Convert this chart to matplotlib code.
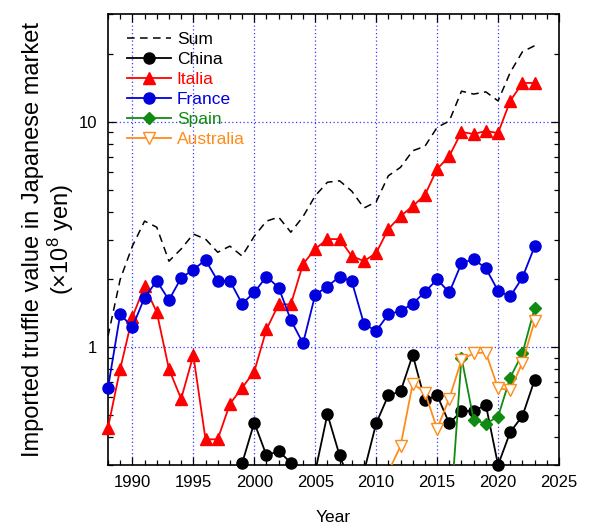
import numpy as np
import matplotlib
matplotlib.use("Agg")
import matplotlib.pyplot as plt
from matplotlib.ticker import MultipleLocator, LogLocator, NullFormatter, FixedLocator, FixedFormatter
from matplotlib.lines import Line2D

plt.rcParams['font.family'] = ['Liberation Sans', 'DejaVu Sans']
plt.rcParams['mathtext.fontset'] = 'custom'
plt.rcParams['mathtext.rm'] = 'Liberation Sans'
plt.rcParams['mathtext.it'] = 'Liberation Sans:italic'

nan = np.nan
years = list(range(1988, 2024))

china = [nan, nan, nan, nan, nan, nan, nan, nan, nan, nan, nan,
         0.305, 0.463, 0.331, 0.346, 0.307, nan, 0.28, 0.504, 0.331,
         0.24, 0.28, 0.459, 0.612, 0.636, 0.924, 0.581, 0.612, 0.459,
         0.521, 0.521, 0.554, 0.30, 0.42, 0.495, 0.716]
italia = [0.44, 0.80, 1.36, 1.87, 1.43, 0.80, 0.59, 0.92, 0.39, 0.39,
          0.56, 0.66, 0.78, 1.20, 1.55, 1.55, 2.34, 2.73, 3.02, 3.02,
          2.54, 2.41, 2.62, 3.35, 3.82, 4.23, 4.74, 6.18, 7.06, 9.03,
          8.84, 9.12, 8.93, 12.4, 14.9, 14.9]
france = [0.66, 1.40, 1.23, 1.66, 1.97, 1.62, 2.03, 2.21, 2.44, 1.97,
          1.97, 1.56, 1.75, 2.06, 1.84, 1.32, 1.04, 1.71, 1.86, 2.06,
          1.96, 1.27, 1.18, 1.40, 1.45, 1.56, 1.76, 2.00, 1.75, 2.36,
          2.46, 2.24, 1.78, 1.68, 2.04, 2.80]
spain = [nan] * 28 + [0.155, 0.90, 0.475, 0.458, 0.492, 0.733, 0.94, 1.49]
australia = [nan] * 23 + [0.28, 0.364, 0.69, 0.629, 0.435, 0.592, 0.878,
                          0.94, 0.947, 0.657, 0.646, 0.855, 1.31]
total = [1.12, 2.0, 2.81, 3.63, 3.41, 2.41, 2.73, 3.18, 3.02, 2.64,
         2.81, 2.54, 3.11, 3.63, 3.78, 3.24, 3.8, 4.70, 5.40, 5.48,
         4.93, 4.15, 4.42, 5.77, 6.29, 7.45, 7.80, 9.46, 10.1, 13.7,
         13.3, 13.6, 12.4, 16.6, 20.5, 21.8]

xticks = [1990, 1995, 2000, 2005, 2010, 2015, 2020, 2025]
yticks = [1, 10]
ytick_labels = ['1', '10']

YMIN, YMAX = 0.3, 30

fig = plt.figure(figsize=(5.9, 5.25), dpi=100)
ax = fig.add_axes([108 / 590, 1 - 465 / 525, (559 - 108) / 590, (465 - 14.5) / 525])
ax.set_yscale('log')

ax.plot(years, total, color='black', lw=1.1, ls=(0, (5, 3.5)), zorder=3)

series = [
    ('China', china, dict(color='black', marker='o', ms=8, mfc='black', mec='black')),
    ('Italia', italia, dict(color='#ff0000', marker='^', ms=8.5, mfc='#ff0000', mec='#ff0000')),
    ('France', france, dict(color='#0000dd', marker='o', ms=8, mfc='#0000dd', mec='#0000dd')),
    ('Spain', spain, dict(color='#118a11', marker='D', ms=6.2, mfc='#118a11', mec='#118a11')),
    ('Australia', australia, dict(color='#ff8c1a', marker='v', ms=8.5, mfc='white', mec='#ff8c1a', mew=1.0)),
]

handles = [Line2D([], [], color='black', lw=1.1, ls=(0, (5, 3.5)))]
labels = ['Sum']
for i, (name, vals, st) in enumerate(series):
    v = np.array(vals, dtype=float)
    ax.plot(years, v, color=st['color'], lw=1.3, zorder=4 + i)
    inside = np.where((v >= YMIN * 0.99) & (v <= YMAX), v, np.nan)
    ax.plot(years, inside, ls='none', marker=st['marker'], ms=st['ms'],
            mfc=st['mfc'], mec=st['mec'], mew=st.get('mew', 1.0),
            clip_on=False, zorder=4 + i)
    handles.append(Line2D([], [], color=st['color'], lw=1.3, marker=st['marker'],
                          ms=st['ms'], mfc=st['mfc'], mec=st['mec'], mew=st.get('mew', 1.0)))
    labels.append(name)

ax.set_xlim(1988, 2025)
ax.set_ylim(YMIN, YMAX)
ax.xaxis.set_major_locator(FixedLocator(xticks))
ax.xaxis.set_minor_locator(MultipleLocator(1))
ax.yaxis.set_major_locator(FixedLocator(yticks))
ax.yaxis.set_major_formatter(FixedFormatter(ytick_labels))
ax.yaxis.set_minor_locator(LogLocator(base=10, subs=np.arange(2, 10)))
ax.yaxis.set_minor_formatter(NullFormatter())

ax.grid(True, which='major', color='#3b3bff', ls=(0, (1, 2)), lw=0.9)
ax.set_axisbelow(True)
for s in ax.spines.values():
    s.set_linewidth(1.2)
ax.tick_params(which='both', direction='in', top=True, right=True, labelsize=12, width=0.9)
ax.tick_params(which='major', length=6)
ax.tick_params(axis='x', which='major', pad=7.5)
ax.tick_params(axis='y', which='major', pad=8)
ax.tick_params(which='minor', length=3.5)

ax.set_xlabel('Year', fontsize=12.5, labelpad=14)
ax.set_ylabel('Imported truffle value in Japanese market\n(×10$^{8}$ yen)', fontsize=17,
              labelpad=1.5, linespacing=1.1)

leg = ax.legend(handles, labels, loc='upper left', bbox_to_anchor=(0.043, 0.962),
                frameon=False, fontsize=12.5, handlelength=2.5, handletextpad=0.35,
                labelspacing=0.28, borderpad=0, borderaxespad=0)
for t, h in zip(leg.get_texts(), handles):
    t.set_color(h.get_color())

fig.savefig('out.png', dpi=100)
